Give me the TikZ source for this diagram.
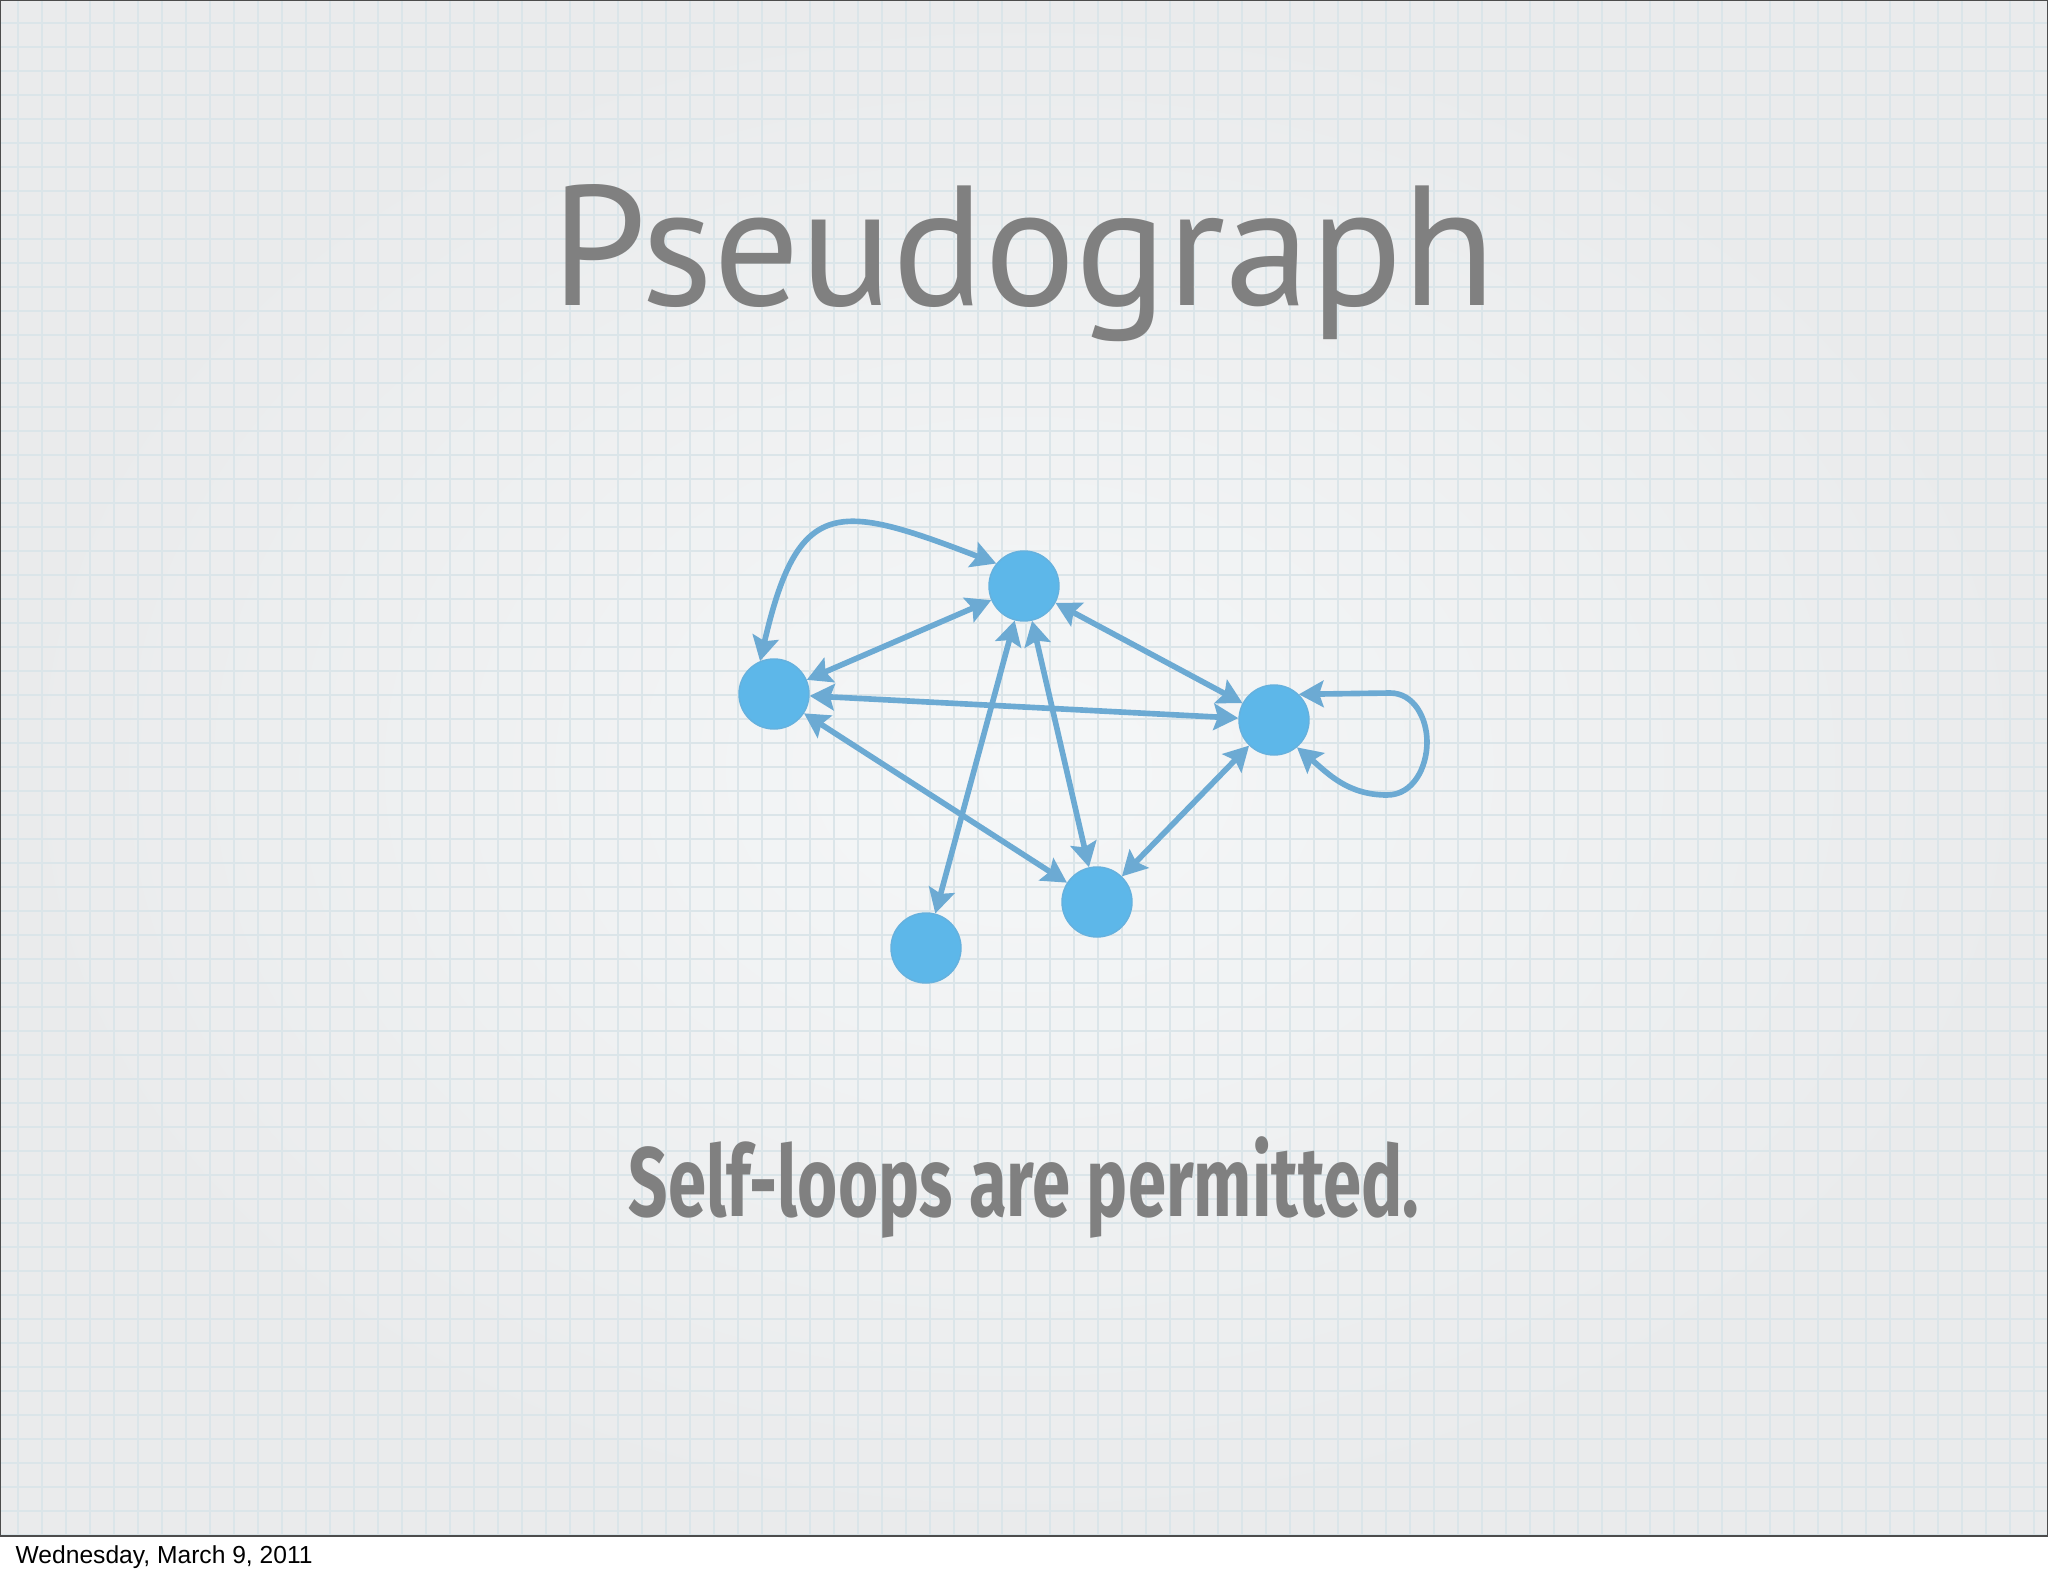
\documentclass[tikz,border=0pt]{standalone}
\usepackage{fontspec}
\setmainfont{Liberation Sans}
\newfontfamily\titlefont{PT Sans}
\newfontfamily\notefont[FakeStretch=0.70]{Fira Sans}
\usetikzlibrary{arrows.meta}
\definecolor{vertexblue}{RGB}{93,183,233}
\definecolor{edgeblue}{RGB}{108,170,211}
\definecolor{textgray}{RGB}{128,128,128}
\definecolor{gridblue}{RGB}{219,229,233}
\definecolor{paperin}{RGB}{245,247,248}
\definecolor{paperout}{RGB}{234,235,236}
\tikzset{
  vertex/.style={circle,fill=vertexblue,draw=edgeblue!50!vertexblue,line width=0.4pt,
    minimum size=0.7cm,inner sep=0pt},
  link/.style={draw=edgeblue,line width=1.6pt,{Stealth[length=7pt,width=7.5pt,inset=1.2pt]}-{Stealth[length=7pt,width=7.5pt,inset=1.2pt]}},
  gridline/.style={draw=gridblue,line width=0.45pt},
}
\begin{document}
\begin{tikzpicture}[x=0.01cm,y=0.01cm]
  \useasboundingbox (0,0) rectangle (2048,-1576);
  % paper
  \shade[inner color=paperin,outer color=paperout] (0,0) rectangle (2048,-1536);
  \begin{scope}
    \clip (0,0) rectangle (2048,-1536);
    \draw[gridline,shift={(18,-23)},step=24] (-18,23) grid (2030,-1513);
  \end{scope}
  \draw[black!70,line width=0.6pt] (0,0) rectangle (2048,-1536);

  % texts
  \node[anchor=base,text=textgray,inner sep=0pt] (title) at (1024,-306)
    {\titlefont\fontsize{48.6pt}{50pt}\selectfont Pseudograph};
  \node[anchor=base,text=textgray,inner sep=0pt] (note) at (1024,-1216)
    {\notefont\bfseries\fontsize{28pt}{30pt}\selectfont Self-loops are permitted.};
  \node[anchor=base west,inner sep=0pt] (date) at (15,-1563)
    {\fontsize{7pt}{8pt}\selectfont Wednesday, March 9, 2011};

  % vertices
  \node[vertex] (top) at (1024,-586) {};
  \node[vertex] (left) at (774,-694) {};
  \node[vertex] (right) at (1274,-720) {};
  \node[vertex] (bmid) at (1097,-902) {};
  \node[vertex] (bleft) at (926,-948) {};

  % edges
  \draw[link] (left.113) to[out=77,in=159,looseness=1.7] (top.141);
  \draw[link] (left) -- (top);
  \draw[link] (top) -- (right);
  \draw[link] (left) -- (right);
  \draw[link] (left) -- (bmid);
  \draw[link] (top) -- (bleft);
  \draw[link] (top) -- (bmid);
  \draw[link] (right) -- (bmid);

  % self-loop
  \coordinate (loopa) at (1390,-693);
  \coordinate (loopr) at (1427,-742);
  \coordinate (loopb) at (1387,-795);
  \draw[link] (right.46) -- (loopa) to[out=0,in=90] (loopr)
    to[out=-90,in=0] (loopb) to[out=180,in=-40] (right.-50);
\end{tikzpicture}
\end{document}
